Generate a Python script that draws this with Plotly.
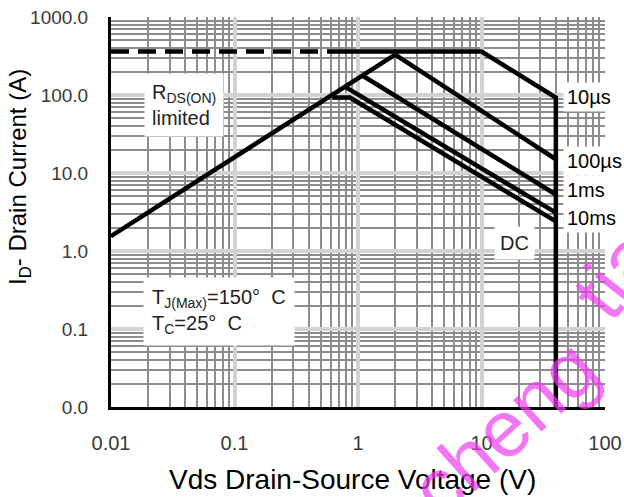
import numpy as np
import plotly.graph_objects as go

# ---- data ----
rds_x = [0.01, 2.0]
rds_y = [1.55, 330]

pkg_dash_x = [0.01, 0.7]
pkg_dash_y = [360, 360]

us10_x = [0.7, 10, 40, 40]
us10_y = [360, 360, 93, 0.01]

us100_x = [2.0, 40]
us100_y = [330, 15]

ms1_x = [1.1, 40]
ms1_y = [175, 5.3]

ms10_x = [0.8, 40]
ms10_y = [125, 3.1]

dc_x = [0.62, 0.86, 40]
dc_y = [93, 93, 2.4]

x_tickvals = [0.01, 0.1, 1, 10, 100]
x_ticktext = ["0.01", "0.1", "1", "10", "100"]
y_tickvals = [0.01, 0.1, 1, 10, 100, 1000]
y_ticktext = ["0.0", "0.1", "1.0", "10.0", "100.0", "1000.0"]

curve_labels = ["10\u00b5s", "100\u00b5s", "1ms", "10ms"]
curve_label_y = [93, 15, 5.3, 3.1]
curve_label_shift = [0, -2, 5, -5]

FONT = "Liberation Sans, Arial, sans-serif"
LW = 4.5

fig = go.Figure()

def add_line(x, y, dash=None):
    fig.add_trace(go.Scatter(
        x=x, y=y, mode="lines",
        line=dict(color="black", width=LW, dash=dash),
        showlegend=False, hoverinfo="skip"))

add_line(rds_x, rds_y)
add_line(pkg_dash_x, pkg_dash_y, dash="18px,9px")
add_line(us10_x, us10_y)
add_line(us100_x, us100_y)
add_line(ms1_x, ms1_y)
add_line(ms10_x, ms10_y)
add_line(dc_x, dc_y)

minor_x = [k * 10.0 ** d for d in range(-2, 2) for k in range(2, 10)]
minor_y = [k * 10.0 ** d for d in range(-2, 3) for k in range(2, 10)]

fig.update_xaxes(
    type="log", range=[-2, 2], automargin=False,
    tickvals=x_tickvals, ticktext=x_ticktext,
    ticks="", ticklabelstandoff=16,
    tickfont=dict(family=FONT, size=20, color="#3a3a3a"),
    showgrid=True, gridcolor="#d2d2d2", gridwidth=4,
    minor=dict(tickvals=minor_x, showgrid=True, gridcolor="#8c8c8c", gridwidth=2, ticks=""),
    showline=True, linecolor="black", linewidth=3, mirror=False,
    zeroline=False,
)
fig.update_yaxes(
    type="log", range=[-2, 3], automargin=False,
    tickvals=y_tickvals, ticktext=y_ticktext,
    ticks="", ticklabelstandoff=16,
    tickfont=dict(family=FONT, size=19, color="#3a3a3a"),
    showgrid=True, gridcolor="#d2d2d2", gridwidth=4,
    minor=dict(tickvals=minor_y, showgrid=True, gridcolor="#8c8c8c", gridwidth=2, ticks=""),
    showline=True, linecolor="black", linewidth=3, mirror=False,
    zeroline=False,
)

annotations = []
# axis titles
annotations.append(dict(
    x=0.488, y=-0.187, xref="paper", yref="paper",
    text="Vds Drain-Source Voltage (V)", showarrow=False,
    xanchor="center", yanchor="middle",
    font=dict(family=FONT, size=28, color="black")))
annotations.append(dict(
    x=-0.184, y=0.59, xref="paper", yref="paper",
    text="I<sub>D</sub>- Drain Current (A)", showarrow=False, textangle=-90,
    xanchor="center", yanchor="middle",
    font=dict(family=FONT, size=24, color="black")))

for lab, yv, sh in zip(curve_labels, curve_label_y, curve_label_shift):
    annotations.append(dict(
        x=np.log10(40), y=np.log10(yv), xref="x", yref="y",
        text=lab, showarrow=False, xanchor="left", yanchor="middle",
        xshift=7, yshift=sh, bgcolor="white", borderpad=3,
        font=dict(family=FONT, size=20, color="black")))

annotations.append(dict(
    x=np.log10(18.5), y=np.log10(1.27), xref="x", yref="y",
    text="DC", showarrow=False, bgcolor="white", borderpad=5,
    font=dict(family=FONT, size=20, color="#222")))

annotations.append(dict(
    x=np.log10(0.039), y=np.log10(75), xref="x", yref="y",
    text="R<sub>DS(ON)</sub><br>limited", showarrow=False, align="left",
    bgcolor="white", borderpad=7,
    font=dict(family=FONT, size=20, color="#222")))

annotations.append(dict(
    x=np.log10(0.0748), y=np.log10(0.166), xref="x", yref="y",
    text="T<sub>J(Max)</sub>=150\u00b0  C<br>T<sub>C</sub>=25\u00b0  C", showarrow=False, align="left",
    bgcolor="white", borderpad=8,
    font=dict(family=FONT, size=20, color="#222")))

# watermark
WM = dict(family=FONT, size=80, color="rgba(240,60,240,0.7)")
annotations.append(dict(
    x=0.795, y=-0.055, xref="paper", yref="paper",
    text="cheng", showarrow=False, textangle=-42,
    xanchor="center", yanchor="middle", font=WM))
annotations.append(dict(
    x=1.05, y=0.385, xref="paper", yref="paper",
    text="tian", showarrow=False, textangle=-52,
    xanchor="center", yanchor="middle", font=WM))

fig.update_layout(
    width=624, height=497,
    margin=dict(l=111, r=19, t=17, b=90),
    paper_bgcolor="white", plot_bgcolor="white",
    annotations=annotations,
    showlegend=False,
)

fig.write_html("out.html")
